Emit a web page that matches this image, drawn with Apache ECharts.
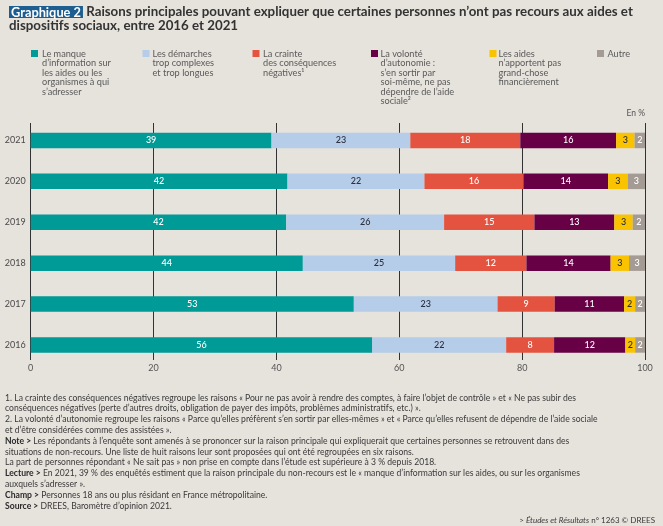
<!DOCTYPE html>
<html>
<head>
    <meta charset="utf-8">
    <title>Graphique 2</title>
    <script src="https://cdn.jsdelivr.net/npm/echarts@6/dist/echarts.min.js"></script>
    <style>
        html, body {
            margin: 0;
            padding: 0;
            background: #e6e2dc;
        }

        #chart {
            width: 663px;
            height: 526px;
        }
    </style>
</head>
<body>
<div id="chart"></div>
<script>
    // années (de bas en haut)
    var years = ['2016', '2017', '2018', '2019', '2020', '2021'];

    // parts en % (arrondies à l'affichage)
    var manqueInfo   = [55.6, 52.6, 44.3, 41.6, 41.8, 39.2];
    var demarches    = [21.8, 23.4, 24.8, 25.7, 22.3, 22.6];
    var crainte      = [7.8, 9.3, 11.6, 14.7, 16.1, 17.9];
    var autonomie    = [11.6, 11.3, 13.7, 13.0, 13.8, 15.6];
    var aidesFaibles = [1.6, 1.8, 3.0, 3.0, 3.2, 3.0];
    var autre        = [1.6, 1.6, 2.6, 2.0, 2.8, 1.7];

    var xTicks = [0, 20, 40, 60, 80, 100];

    var seriesNames = [
        'Le manque d’information sur les aides ou les organismes à qui s’adresser',
        'Les démarches trop complexes et trop longues',
        'La crainte des conséquences négatives',
        'La volonté d’autonomie : s’en sortir par soi-même, ne pas dépendre de l’aide sociale',
        'Les aides n’apportent pas grand-chose financièrement',
        'Autre'
    ];
    var legendLabels = [
        'Le manque\nd’information sur\nles aides ou les\norganismes à qui\ns’adresser',
        'Les démarches\ntrop complexes\net trop longues',
        'La crainte\ndes conséquences\nnégatives¹',
        'La volonté\nd’autonomie :\ns’en sortir par\nsoi-même, ne pas\ndépendre de l’aide\nsociale²',
        'Les aides\nn’apportent pas\ngrand-chose\nfinancièrement',
        'Autre'
    ];
    var seriesData = [manqueInfo, demarches, crainte, autonomie, aidesFaibles, autre];
    var colors = ['#009a97', '#b5cde9', '#e3533f', '#680046', '#f9c300', '#a49c94'];
    var labelColors = ['#ffffff', '#2b2b3a', '#ffffff', '#ffffff', '#2b2b3a', '#ffffff'];

    var font = 'Lato';

    var chart = echarts.init(document.getElementById('chart'));

    var series = seriesData.map(function (d, i) {
        return {
            name: seriesNames[i],
            type: 'bar',
            stack: 'total',
            xAxisIndex: 0,
            yAxisIndex: 0,
            barWidth: 15.5,
            data: d,
            itemStyle: {color: colors[i]},
            label: {
                show: true,
                position: 'inside',
                color: labelColors[i],
                fontFamily: font,
                fontSize: 9,
                fontWeight: 500,
                formatter: function (p) {
                    return Math.round(p.value);
                }
            }
        };
    });

    // légende dessinée à la main (icône alignée sur la première ligne)
    var iconX = [31, 142.5, 252.5, 371, 489.5, 597];
    var textX = [42, 152.5, 263, 380.5, 498.5, 607.5];
    var graphics = [];
    legendLabels.forEach(function (txt, i) {
        graphics.push({
            type: 'rect',
            shape: {x: iconX[i], y: 50, width: 7, height: 7},
            style: {fill: colors[i]}
        });
        graphics.push({
            type: 'text',
            x: textX[i],
            y: 49.3,
            style: {
                text: txt,
                fill: '#5a5a5a',
                font: '9.2px ' + font,
                lineHeight: 9.4,
                verticalAlign: 'top'
            }
        });
    });
    graphics.push({
        type: 'text',
        x: 645,
        y: 113,
        style: {
            text: 'En %',
            fill: '#555555',
            font: '8.5px ' + font,
            align: 'right',
            verticalAlign: 'middle'
        }
    });

    var notes = [
        '1. La crainte des conséquences négatives regroupe les raisons « Pour ne pas avoir à rendre des comptes, à faire l’objet de contrôle » et « Ne pas subir des',
        'conséquences négatives (perte d’autres droits, obligation de payer des impôts, problèmes administratifs, etc.) ».',
        '2. La volonté d’autonomie regroupe les raisons « Parce qu’elles préfèrent s’en sortir par elles-mêmes » et « Parce qu’elles refusent de dépendre de l’aide sociale',
        'et d’être considérées comme des assistées ».',
        '{b|Note >} Les répondants à l’enquête sont amenés à se prononcer sur la raison principale qui expliquerait que certaines personnes se retrouvent dans des',
        'situations de non-recours. Une liste de huit raisons leur sont proposées qui ont été regroupées en six raisons.',
        'La part de personnes répondant « Ne sait pas » non prise en compte dans l’étude est supérieure à 3 % depuis 2018.',
        '{b|Lecture >} En 2021, 39 % des enquêtés estiment que la raison principale du non-recours est le « manque d’information sur les aides, ou sur les organismes',
        'auxquels s’adresser ».',
        '{b|Champ >} Personnes 18 ans ou plus résidant en France métropolitaine.',
        '{b|Source >} DREES, Baromètre d’opinion 2021.'
    ];

    var option = {
        backgroundColor: '#e6e2dc',
        textStyle: {fontFamily: font},
        title: [{
            left: 4,
            top: 0,
            text: '{box|Graphique 2} Raisons principales pouvant expliquer que certaines personnes n’ont pas recours aux aides et\ndispositifs sociaux, entre 2016 et 2021',
            textStyle: {
                fontFamily: font,
                fontSize: 13.3,
                fontWeight: 'bold',
                color: '#333333',
                lineHeight: 14,
                rich: {
                    box: {
                        backgroundColor: '#1d5d8f',
                        color: '#ffffff',
                        fontFamily: font,
                        fontSize: 12.8,
                        fontWeight: 'bold',
                        padding: [0, 2, -1, 2],
                        lineHeight: 13
                    }
                }
            }
        }, {
            left: 0,
            top: 387.5,
            text: notes.join('\n'),
            textStyle: {
                fontFamily: font,
                fontSize: 8.6,
                fontWeight: 'normal',
                color: '#3a3a3a',
                lineHeight: 10.8,
                rich: {
                    b: {fontFamily: font, fontSize: 8.6, fontWeight: 'bold', color: '#2a2a2a', lineHeight: 10.8}
                }
            }
        }, {
            right: 3,
            top: 511,
            text: '> {i|Études et Résultats} n° 1263 © DREES',
            textStyle: {
                fontFamily: font,
                fontSize: 8,
                fontWeight: 'normal',
                color: '#3a3a3a',
                rich: {
                    i: {fontFamily: font, fontSize: 8, fontStyle: 'italic', color: '#3a3a3a'}
                }
            }
        }],
        tooltip: {},
        graphic: graphics,
        grid: [
            {left: 30.7, right: 18, top: 120, height: 245.4},
            {left: 30.7, right: 18, top: 123, height: 237}
        ],
        xAxis: [{
            gridIndex: 0,
            type: 'value',
            min: 0,
            max: 100,
            show: false
        }, {
            gridIndex: 1,
            type: 'value',
            min: xTicks[0],
            max: xTicks[xTicks.length - 1],
            interval: 20,
            axisLine: {show: false},
            axisTick: {show: false},
            splitLine: {lineStyle: {color: '#1e1e1e', width: 0.9}},
            axisLabel: {
                color: '#555555',
                fontFamily: font,
                fontSize: 9,
                margin: 4
            }
        }],
        yAxis: [{
            gridIndex: 0,
            type: 'category',
            data: years,
            axisLine: {show: false},
            axisTick: {show: false},
            axisLabel: {
                color: '#4a4a4a',
                fontFamily: font,
                fontSize: 9,
                margin: 5
            }
        }, {
            gridIndex: 1,
            type: 'value',
            min: 0,
            max: 1,
            show: false
        }],
        series: series
    };

    chart.setOption(option);
</script>
</body>
</html>
